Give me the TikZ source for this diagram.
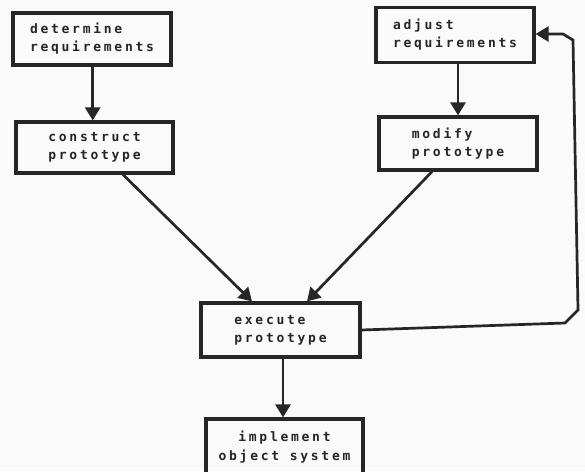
\documentclass[tikz,border=0pt]{standalone}
\usepackage{fontspec}
\newfontfamily\dotfont[LetterSpace=21]{DejaVu Sans Mono}
\usetikzlibrary{arrows.meta,calc}
\definecolor{ink}{HTML}{262626}
\definecolor{paper}{HTML}{FAFAFA}
\tikzset{
  stepbox/.style={draw=ink, line width=3.2pt, rectangle, inner sep=0pt,
    minimum width=158pt, minimum height=53pt, text=ink,
    font=\dotfont\bfseries\fontsize{13}{18}\selectfont, align=left},
  flow/.style={draw=ink, line width=2.7pt,
    -{Triangle[length=13pt,width=15pt]}, line join=miter},
}
\begin{document}
\begin{tikzpicture}[x=1pt,y=-1pt]
  \fill[paper] (0,0) rectangle (585,471);
  \useasboundingbox (0,0) rectangle (585,471);
  \begin{scope}
  \clip (0,0) rectangle (585,471);
  % process boxes
  \node[stepbox, minimum height=52pt] (det) at (92,39) {determine\\requirements};
  \node[stepbox, minimum height=55pt] (adj) at (455,35) {adjust\\requirements};
  \node[stepbox, minimum width=157pt, minimum height=51pt] (con) at (94.5,147.5) {construct\\prototype};
  \node[stepbox] (mod) at (458,143.5) {modify\\prototype};
  \node[stepbox, minimum width=159pt, minimum height=54pt] (exe) at (280.5,330) {execute\\prototype};
  \node[stepbox, minimum width=157pt, minimum height=56pt, align=center] (imp) at (284.5,447) {implement\\[1pt]object system};

  % straight arrows
  \draw[flow] ([xshift=0.7pt]det.south) -- ([xshift=-1.8pt]con.north);
  \draw[flow] (mod.north |- adj.south) -- (mod.north);
  \draw[flow] ([xshift=28.5pt]con.south) -- ([xshift=-28.5pt]exe.north);
  \draw[flow] ([xshift=-26pt]mod.south) -- ([xshift=26.5pt]exe.north);
  \draw[flow] ([xshift=-1.5pt]imp.north |- exe.south) -- ([xshift=-1.5pt]imp.north);

  % feedback loop from execution back to requirements
  \coordinate (f1) at (565,323);
  \coordinate (f2) at (578,310);
  \coordinate (f3) at (573,40);
  \coordinate (f4) at (563,34);
  \draw[flow] (exe.east) -- (f1) -- (f2) -- (f3) -- (f4) -- (adj.east |- f4);
  \end{scope}
\end{tikzpicture}
\end{document}
